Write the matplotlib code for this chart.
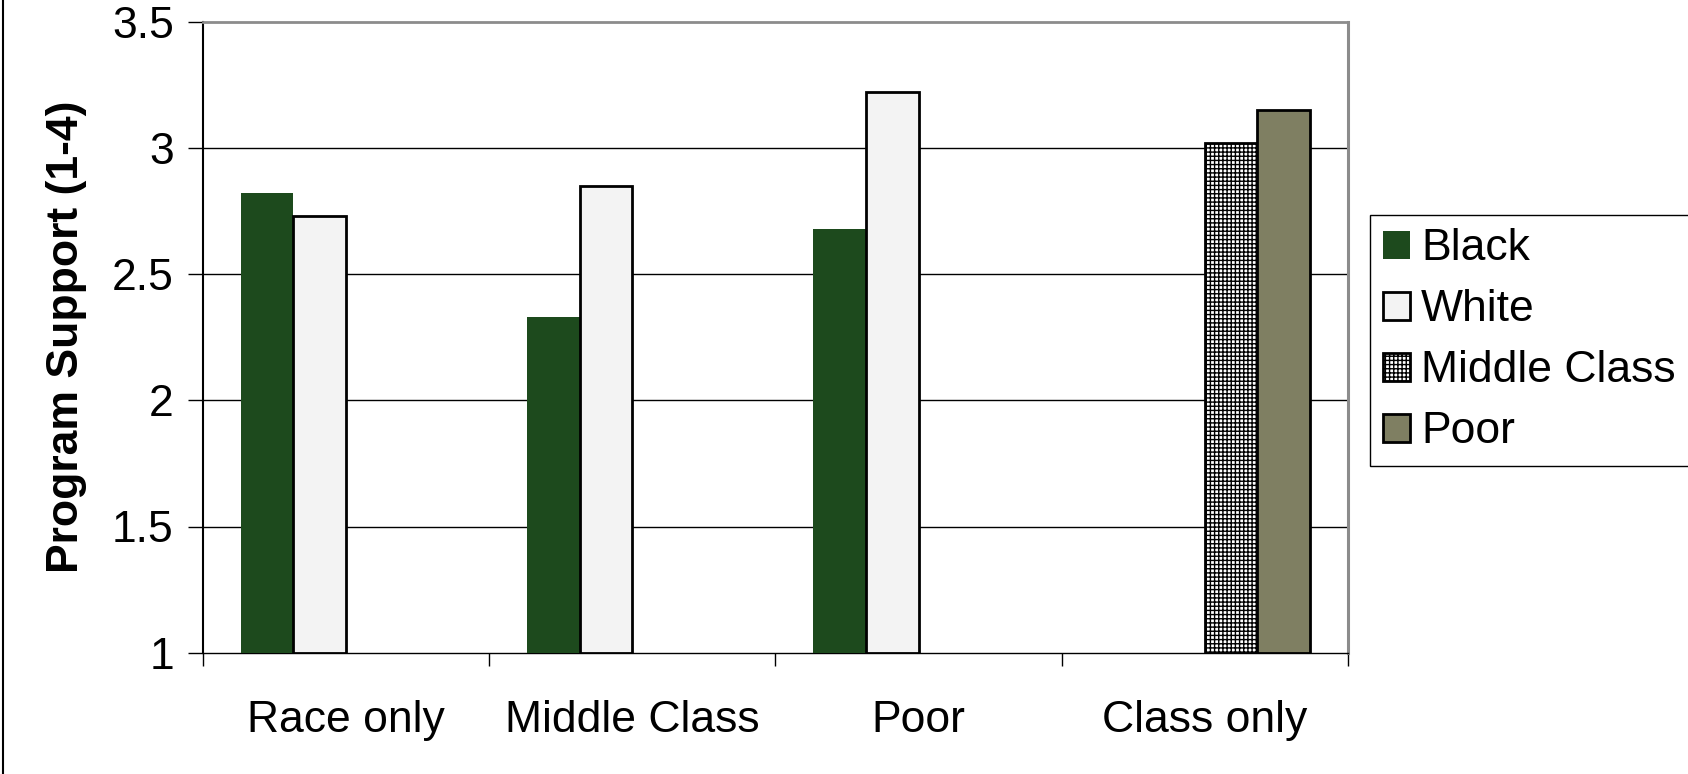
import numpy as np
import matplotlib
matplotlib.use("Agg")
import matplotlib.pyplot as plt
from matplotlib.patches import Patch
from matplotlib.lines import Line2D

plt.rcParams['font.family'] = ['Liberation Sans', 'DejaVu Sans']
plt.rcParams['hatch.linewidth'] = 1.0

categories = ["Race only", "Middle Class", "Poor", "Class only"]
series_names = ["Black", "White", "Middle Class", "Poor"]
black_vals = [2.82, 2.33, 2.68, np.nan]
white_vals = [2.73, 2.85, 3.22, np.nan]
middle_vals = [np.nan, np.nan, np.nan, 3.02]
poor_vals = [np.nan, np.nan, np.nan, 3.15]
yticks = [1, 1.5, 2, 2.5, 3, 3.5]
ytick_labels = ["1", "1.5", "2", "2.5", "3", "3.5"]

series = [black_vals, white_vals, middle_vals, poor_vals]
styles = [
    dict(facecolor="#1d4a1d", edgecolor="#1d4a1d", linewidth=0, hatch=None),
    dict(facecolor="#f3f3f3", edgecolor="black", linewidth=2.0, hatch=None),
    dict(facecolor="white", edgecolor="black", linewidth=2.0, hatch="++++"),
    dict(facecolor="#7f7f62", edgecolor="black", linewidth=2.0, hatch=None),
]

W, H = 1688, 774
fig = plt.figure(figsize=(W / 100, H / 100), dpi=100)
ax = fig.add_axes([202.7 / W, 1 - 652.7 / H, (1348 - 202.7) / W, (652.7 - 21.7) / H])

x = np.arange(len(categories))
bw = 0.1834
for k, (vals, st) in enumerate(zip(series, styles)):
    v = np.array(vals, dtype=float)
    mask = ~np.isnan(v)
    ax.bar(x[mask] + (k - 1.5) * bw, v[mask] - 1, bottom=1, width=bw,
           align="center", zorder=3, **st)

ax.set_xlim(-0.5, 3.5)
ax.set_ylim(1, 3.5)
ax.set_yticks(yticks)
ax.set_yticklabels(ytick_labels, fontsize=32)
for y in yticks[1:-1]:
    ax.axhline(y, color="black", linewidth=1.0, zorder=1)

ax.set_xticks(np.arange(-0.5, 4, 1.0))
ax.set_xticklabels([])
ax.set_xticks(x, minor=True)
ax.set_xticklabels(categories, minor=True, fontsize=32)
ax.tick_params(axis="x", which="major", direction="out", length=9.5, width=1.0, color="black")
ax.tick_params(axis="x", which="minor", length=0, pad=34)
ax.tick_params(axis="y", direction="out", length=10.8, width=1.0, color="black", pad=10)

ax.spines["left"].set_color("black")
ax.spines["left"].set_linewidth(1.5)
ax.spines["bottom"].set_color("black")
ax.spines["bottom"].set_linewidth(1.0)
ax.spines["top"].set_color("#8c8c8c")
ax.spines["top"].set_linewidth(2.0)
ax.spines["right"].set_color("#8c8c8c")
ax.spines["right"].set_linewidth(2.2)

ax.set_ylabel("Program Support (1-4)", fontsize=32, fontweight="bold", labelpad=18)

handles = [Patch(**st) for st in styles]
leg = fig.legend(handles, series_names, loc="upper left",
                 bbox_to_anchor=(1370 / W, 1 - 215 / H), bbox_transform=fig.transFigure,
                 fontsize=32, frameon=True, fancybox=False, framealpha=1,
                 edgecolor="black", borderaxespad=0, borderpad=0.3,
                 handlelength=0.6, handleheight=0.6, handletextpad=0.25,
                 labelspacing=0.45)
leg.get_frame().set_linewidth(1.0)

fig.add_artist(Line2D([2.7 / W, 2.7 / W], [0, 1], transform=fig.transFigure,
                      color="black", linewidth=1.5))

fig.savefig("out.png", dpi=100)
